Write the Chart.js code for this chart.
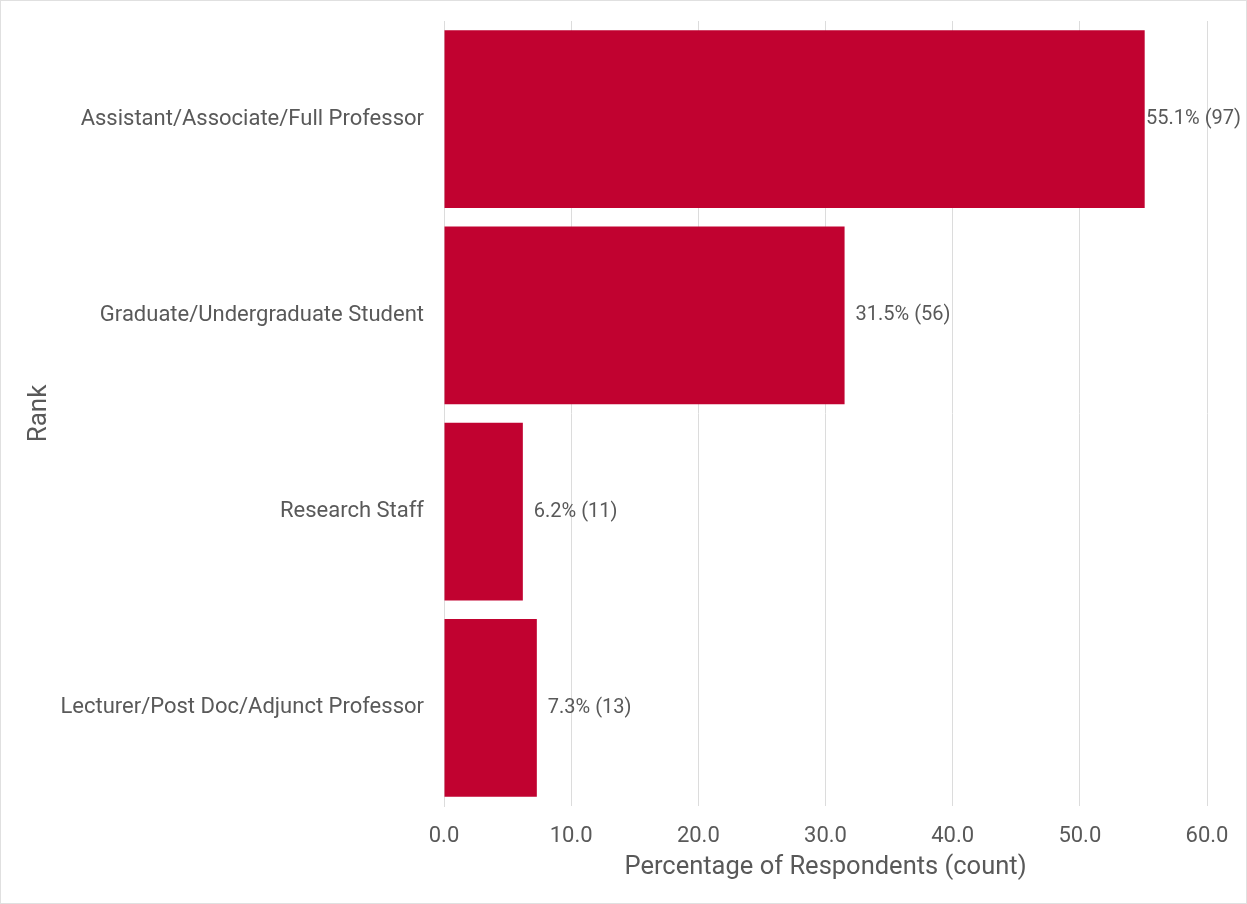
<!DOCTYPE html>
<html>
<head>
<meta charset="utf-8">
<script src="https://cdn.jsdelivr.net/npm/chart.js@4.4.1/dist/chart.umd.min.js"></script>
<style>
  html, body { margin: 0; padding: 0; background: #fff; }
  #wrap {
    width: 1247px;
    height: 904px;
    box-sizing: border-box;
    border: 1px solid #e0e0e0;
    position: relative;
  }
  #rankChart { display: block; }
</style>
</head>
<body>
<div id="wrap">
  <canvas id="rankChart" width="1245" height="902"></canvas>
</div>
<script>
const rankLabels = [
  'Assistant/Associate/Full Professor',
  'Graduate/Undergraduate Student',
  'Research Staff',
  'Lecturer/Post Doc/Adjunct Professor'
];
const rankPercents = [55.1, 31.5, 6.2, 7.3];
const rankCounts = [97, 56, 11, 13];
const xTicks = [0, 10, 20, 30, 40, 50, 60];

const textColor = '#595959';
const barColor = '#c10230';

// prints "55.1% (97)" right after the end of each bar
const barValueLabels = {
  id: 'barValueLabels',
  afterDatasetsDraw(chart) {
    const ctx = chart.ctx;
    const meta = chart.getDatasetMeta(0);
    ctx.save();
    ctx.font = '20px Roboto';
    ctx.fillStyle = textColor;
    ctx.textBaseline = 'middle';
    ctx.textAlign = 'left';
    meta.data.forEach((bar, i) => {
      const txt = rankPercents[i].toFixed(1) + '% (' + rankCounts[i] + ')';
      const w = ctx.measureText(txt).width;
      let x = bar.x + 11;
      // keep the text inside the canvas
      x = Math.min(x, chart.width - 5 - w);
      ctx.fillText(txt, x, bar.y);
    });
    ctx.restore();
  }
};

const chart = new Chart(document.getElementById('rankChart'), {
  type: 'bar',
  data: {
    labels: rankLabels,
    datasets: [
      {
        label: 'Percentage of Respondents',
        data: rankPercents,
        backgroundColor: barColor,
        borderWidth: 0,
        categoryPercentage: 1.0,
        barPercentage: 0.906,
      },
    ],
  },
  options: {
    indexAxis: 'y',
    responsive: false,
    animation: false,
    layout: {
      padding: { top: 20, right: 39, left: 0, bottom: 0 },
    },
    plugins: {
      legend: { display: false },
      tooltip: { enabled: false },
    },
    scales: {
      x: {
        min: 0,
        max: 60,
        afterBuildTicks(scale) {
          scale.ticks = xTicks.map((v) => ({ value: v }));
        },
        afterFit(scale) {
          scale.height = 97;
          scale.paddingLeft = 0;
          scale.paddingRight = 0;
        },
        grid: {
          color: '#dcdcdc',
          lineWidth: 1,
          drawTicks: false,
        },
        border: { display: false },
        ticks: {
          color: textColor,
          font: { family: 'Roboto', size: 22 },
          padding: 17,
          callback: (v) => Number(v).toFixed(1),
        },
        title: {
          display: true,
          text: 'Percentage of Respondents (count)',
          color: textColor,
          font: { family: 'Roboto', size: 25.5 },
          padding: { top: 0, bottom: 20 },
        },
      },
      y: {
        afterFit(scale) {
          scale.width = 443;
          scale.paddingTop = 0;
          scale.paddingBottom = 0;
        },
        grid: { display: false, drawTicks: false },
        border: { display: true, color: '#dcdcdc', width: 1 },
        ticks: {
          color: textColor,
          font: { family: 'Roboto', size: 22 },
          padding: 20,
        },
        title: {
          display: true,
          text: 'Rank',
          color: textColor,
          font: { family: 'Roboto', size: 26 },
          padding: { top: 23, bottom: 0 },
        },
      },
    },
  },
  plugins: [barValueLabels],
});
</script>
</body>
</html>
